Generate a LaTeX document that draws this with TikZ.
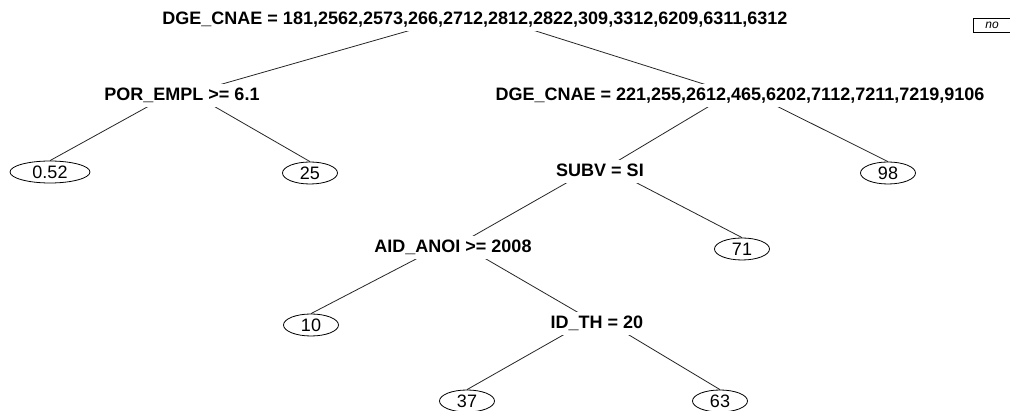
\documentclass[tikz,border=0pt]{standalone}
\usepackage{fontspec}
\setmainfont{Liberation Sans}
\usetikzlibrary{shapes.geometric,backgrounds}
\begin{document}
\begin{tikzpicture}[x=1pt,y=-1pt,
  split/.style={font=\fontsize{18}{21}\selectfont\bfseries, fill=white, inner xsep=2pt, inner ysep=4pt,
                text height=13pt, text depth=2pt, anchor=base},
  leaf/.style={draw, ellipse, line width=0.8pt, minimum width=55pt, minimum height=22pt, inner sep=0pt,
               fill=white, font=\fontsize{18}{21}\selectfont},
  branch/.style={line width=0.8pt, draw=black!85},
  legendbox/.style={draw, line width=0.8pt, minimum width=45pt, minimum height=14pt, inner sep=0pt, anchor=north west}
]
\useasboundingbox (0,0) rectangle (1010,411);

% split nodes (label boxes hide the branches passing behind them)
\node[split] (root) at (475,25) {DGE\_CNAE = 181,2562,2573,266,2712,2812,2822,309,3312,6209,6311,6312};
\node[split] (por) at (182,101) {POR\_EMPL >= 6.1};
\node[split] (dge) at (740,101) {DGE\_CNAE = 221,255,2612,465,6202,7112,7211,7219,9106};
\node[split] (subv) at (600,177) {SUBV = SI};
\node[split] (aid) at (453,253) {AID\_ANOI >= 2008};
\node[split] (idth) at (597,329) {ID\_TH = 20};

% leaves
\node[leaf, minimum width=80pt] (l052) at (50,172) {0.52};
\node[leaf] (l25) at (310,173) {25};
\node[leaf] (l98) at (888,173) {98};
\node[leaf] (l71) at (742,249) {71};
\node[leaf] (l10) at (311,325) {10};
\node[leaf] (l37) at (467,401) {37};
\node[leaf] (l63) at (720,401) {63};

% legend box (cut by the page edge)
\node[legendbox] (nobox) at (973,18) {};
\node[font=\fontsize{12}{14}\selectfont\itshape] (notext) at (992,25) {no};

% node points: top centre of each split label
\coordinate (rootP) at ([yshift=-4pt]root.north);
\coordinate (porP) at ([yshift=-4pt]por.north);
\coordinate (dgeP) at ([yshift=-4pt]dge.north);
\coordinate (subvP) at ([yshift=-4pt]subv.north);
\coordinate (aidP) at ([yshift=-4pt]aid.north);
\coordinate (idthP) at ([yshift=-4pt]idth.north);

\begin{scope}[on background layer]
\fill[white] (0,0) rectangle (1010,411);
\draw[branch] (rootP) -- (por.center);
\draw[branch] (rootP) -- (dge.center);
\draw[branch] (porP) -- (l052.north);
\draw[branch] (porP) -- (l25.north);
\draw[branch] (dgeP) -- (subv.center);
\draw[branch] (dgeP) -- (l98.north);
\draw[branch] (subvP) -- (aid.center);
\draw[branch] (subvP) -- (l71.north);
\draw[branch] (aidP) -- (l10.north);
\draw[branch] (aidP) -- (idth.center);
\draw[branch] (idthP) -- (l37.north);
\draw[branch] (idthP) -- (l63.north);
\end{scope}
\end{tikzpicture}
\end{document}
